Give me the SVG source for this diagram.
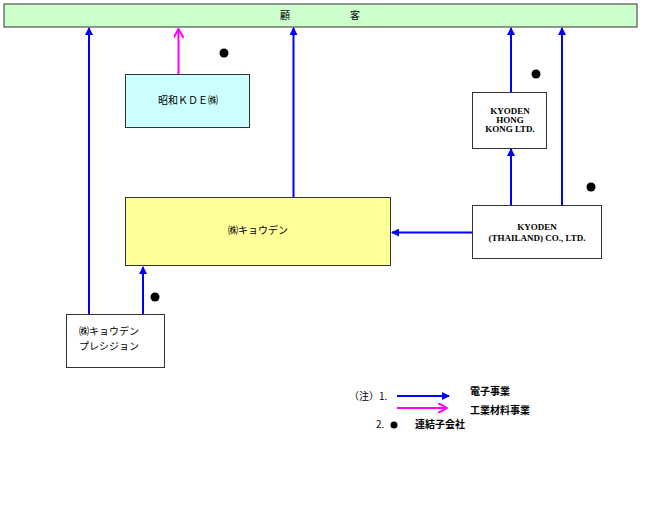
<svg xmlns="http://www.w3.org/2000/svg" width="649" height="518" viewBox="0 0 649 518">
<style>
.box{stroke:#333;stroke-width:1}
.t{font-family:"Noto Sans CJK JP","Liberation Sans",sans-serif;font-size:10px;fill:#000}
.e{font-family:"Liberation Serif",serif;font-size:9px;font-weight:bold;fill:#000}
.b{stroke:#0000ff;stroke-width:2;fill:none}
.m{stroke:#ff00ff;stroke-width:2;fill:none}
</style>
<defs>
<marker id="ab" markerWidth="8" markerHeight="8" refX="7" refY="4" orient="auto" markerUnits="userSpaceOnUse"><path d="M0,0 L8,4 L0,8 Z" fill="#0000ff"/></marker>
<marker id="am" markerWidth="10" markerHeight="10" refX="9" refY="5" orient="auto" markerUnits="userSpaceOnUse"><path d="M0,0 L9,5 L0,10" fill="none" stroke="#ff00ff" stroke-width="2"/></marker>
</defs>
<rect width="649" height="518" fill="#fff"/>
<g id="customer"><rect class="box" x="4" y="4" width="633" height="23" fill="#ccffcc"/><text class="t" x="280" y="19">顧</text><text class="t" x="350" y="19">客</text></g>
<g id="showa"><rect class="box" x="125.5" y="74.5" width="124" height="53" fill="#ccffff"/><text class="t" x="188" y="104" text-anchor="middle">昭和ＫＤＥ㈱</text></g>
<g id="hk"><rect class="box" x="472.5" y="92.5" width="74" height="56" fill="#fff"/><text class="e" x="510" y="114" text-anchor="middle">KYODEN</text><text class="e" x="510" y="123" text-anchor="middle">HONG</text><text class="e" x="510" y="132" text-anchor="middle">KONG LTD.</text></g>
<g id="thailand"><rect class="box" x="472.5" y="205.5" width="129" height="53" fill="#fff"/><text class="e" x="537" y="230" text-anchor="middle">KYODEN</text><text class="e" x="537" y="241" text-anchor="middle">(THAILAND) CO., LTD.</text></g>
<g id="kyoden"><rect class="box" x="125.5" y="197.5" width="265" height="68" fill="#ffff99"/><text class="t" x="258" y="234" text-anchor="middle">㈱キョウデン</text></g>
<g id="precision"><rect class="box" x="66.5" y="314.5" width="98" height="53" fill="#fff"/><text class="t" x="79" y="335">㈱キョウデン</text><text class="t" x="79" y="350">プレシジョン</text></g>
<g id="connectors">
<line class="b" x1="89" y1="314" x2="89" y2="28" marker-end="url(#ab)"/>
<line class="m" x1="178.5" y1="74" x2="178.5" y2="29" marker-end="url(#am)"/>
<line class="b" x1="293.5" y1="197" x2="293.5" y2="28" marker-end="url(#ab)"/>
<line class="b" x1="511" y1="92" x2="511" y2="28" marker-end="url(#ab)"/>
<line class="b" x1="562" y1="205" x2="562" y2="28" marker-end="url(#ab)"/>
<line class="b" x1="511" y1="205" x2="511" y2="149" marker-end="url(#ab)"/>
<line class="b" x1="472" y1="232.5" x2="392" y2="232.5" marker-end="url(#ab)"/>
<line class="b" x1="143" y1="314" x2="143" y2="267" marker-end="url(#ab)"/>
</g>
<g id="dots" fill="#000">
<circle cx="224" cy="53" r="4.5"/><circle cx="536" cy="74" r="4.5"/><circle cx="591" cy="187" r="4.5"/><circle cx="155" cy="297" r="4.5"/>
</g>
<g id="legend">
<text class="t" x="349" y="400" font-size="8">（注）1.</text>
<line class="b" x1="397" y1="396" x2="449" y2="396" marker-end="url(#ab)"/>
<line class="m" x1="397" y1="408" x2="447" y2="408" marker-end="url(#am)"/>
<text class="t" x="470" y="395" font-size="8" font-weight="bold">電子事業</text>
<text class="t" x="470" y="414" font-size="8" font-weight="bold">工業材料事業</text>
<text class="t" x="376" y="428" font-size="8">2.</text>
<circle cx="394" cy="425" r="3.5" fill="#000"/>
<text class="t" x="415" y="428" font-size="8" font-weight="bold">連結子会社</text>
</g>
</svg>
